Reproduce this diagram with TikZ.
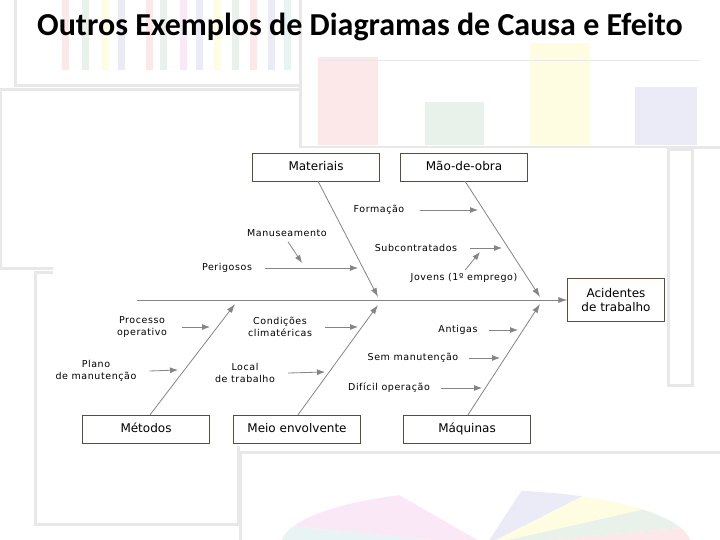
\documentclass[tikz,border=0pt]{standalone}
\usepackage{fontspec}
\setmainfont{DejaVu Sans}
\newfontfamily\titlefont{Carlito}
\newfontfamily\lblfont[LetterSpace=6]{DejaVu Sans}
\usepackage{xcolor}
\usetikzlibrary{arrows.meta,positioning,calc}
\definecolor{fbLine}{HTML}{858585}
\definecolor{fbBox}{HTML}{5E4B3C}
\definecolor{bgFrame}{HTML}{E8E8E8}
\definecolor{bgRed}{HTML}{FCE8E8}
\definecolor{bgGreen}{HTML}{E8F2EA}
\definecolor{bgYellow}{HTML}{FEFDE2}
\definecolor{bgBlue}{HTML}{EBEBF8}
\definecolor{bgPink}{HTML}{FBE8F6}
\definecolor{bgCyan}{HTML}{E8F4F4}

\begin{document}
\begin{tikzpicture}[x=1pt,y=-1pt,
  cat/.style={draw=fbBox,fill=white,minimum width=127pt,minimum height=28pt,
    inner sep=0pt,text height=9pt,text depth=2.5pt,font=\fontsize{12}{14}\selectfont},
  effect/.style={draw=fbBox,fill=white,minimum width=97pt,minimum height=43pt,
    inner sep=0pt,align=center,font=\fontsize{12}{14}\selectfont},
  lbl/.style={inner sep=1pt,align=center,font=\lblfont\fontsize{9.5}{12}\selectfont},
  bone/.style={draw=fbLine,line width=0.8pt,-{Latex[length=9pt,width=6pt]}},
  twig/.style={draw=fbLine,line width=0.8pt,-{Latex[length=8pt,width=6pt]}},
  frame/.style={draw=bgFrame,line width=3pt}
]
\useasboundingbox (0,0) rectangle (720,540);
\fill[white] (0,0) rectangle (720,540);

% faded screenshots behind
\draw[frame] (15,-5) rectangle (300,86);
\foreach \x/\c in {62/bgRed,82/bgGreen,102/bgYellow,118/bgBlue,146/bgRed,160/bgGreen,
  180/bgPink,196/bgBlue,214/bgYellow,232/bgGreen,250/bgRed,268/bgBlue,284/bgCyan}
  \fill[\c] (\x,0) rectangle ++(7,70);
\draw[frame] (0,90) rectangle (300,268);
\draw[frame] (300,-5) rectangle (725,148);
\fill[bgRed] (318,57) rectangle (378,145);
\fill[bgGreen] (425,102) rectangle (484,145);
\fill[bgYellow] (530,43) rectangle (590,145);
\fill[bgBlue] (635,87) rectangle (697,145);
\draw[bgFrame] (320,60) -- (700,60);
\draw[frame] (35,272) rectangle (238,524);
\draw[frame] (668,150) rectangle (692,385);
\draw[frame] (240,452) rectangle (722,545);
\coordinate (pie) at (486,545);
\fill[bgCyan] (pie) -- ++(-205,0) arc (-180:-160:205 and 55) -- cycle;
\fill[bgPink] (pie) -- ++(-160:205 and 55) arc (-160:-115:205 and 55) -- cycle;
\fill[bgBlue] (pie) -- ++(-80:205 and 55) arc (-80:-62:205 and 55) -- cycle;
\fill[bgYellow] (pie) -- ++(-62:205 and 55) arc (-62:-40:205 and 55) -- cycle;
\fill[bgGreen] (pie) -- ++(-40:205 and 55) arc (-40:-18:205 and 55) -- cycle;
\fill[bgRed] (pie) -- ++(-18:205 and 55) arc (-18:0:205 and 55) -- cycle;

% fishbone panel
\fill[white] (53,148) rectangle (666,446);

\node[font=\titlefont\bfseries\fontsize{32}{36}\selectfont] (title) at (360,27)
  {Outros Exemplos de Diagramas de Causa e Efeito};

% categories and effect
\node[cat] (mat) at (316,167) {Materiais};
\node[cat] (mao) at (464,167) {Mão-de-obra};
\node[cat] (met) at (146,429) {Métodos};
\node[cat] (meio) at (297,429) {Meio envolvente};
\node[cat] (maq) at (467,429) {Máquinas};
\node[effect] (efeito) at (616,300) {Acidentes\\de trabalho};

% spine and bones
\coordinate (tail) at (137,300);
\draw[bone] (tail) -- (efeito.west);
\draw[bone] ($(mat.south)+(2,0)$) -- (378,297) coordinate (matend);
\draw[bone] ($(mao.south)+(1,0)$) -- (540,297) coordinate (maoend);
\draw[bone] ($(met.north)+(4,0)$) -- (235,304) coordinate (metend);
\draw[bone] ($(meio.north)+(1,0)$) -- (378,305) coordinate (meioend);
\draw[bone] ($(maq.north)+(1,0)$) -- (540,304) coordinate (maqend);

% causes
\node[lbl] (perig) at (227,268) {Perigosos};
\node[lbl] (manus) at (287,233) {Manuseamento};
\node[lbl] (form) at (379,210) {Formação};
\node[lbl] (subc) at (416,248) {Subcontratados};
\node[lbl] (jov) at (464,278) {Jovens (1º emprego)};
\node[lbl] (proc) at (142,327) {Processo\\operativo};
\node[lbl] (plano) at (96,371) {Plano\\de manutenção};
\node[lbl] (cond) at (280,327) {Condições\\climatéricas};
\node[lbl] (local) at (245,373) {Local\\de trabalho};
\node[lbl] (antig) at (458,330) {Antigas};
\node[lbl] (semm) at (413,358) {Sem manutenção};
\node[lbl] (dific) at (389,388) {Difícil operação};

\draw[twig] ($(perig.east)+(12,0)$) -- (358,268);
\draw[twig] ($(manus.south)+(1,4)$) -- (302,263);
\draw[twig] ($(form.east)+(14,0)$) -- (478,210);
\draw[twig] ($(subc.east)+(12,0)$) -- (502,248);
\draw[twig] ($(jov.north)+(1,-2)$) -- (480,252);
\draw[twig] ($(proc.east)+(14,0)$) -- (210,327);
\draw[twig] ($(plano.east)+(12,0)$) -- (178,370);
\draw[twig] ($(cond.east)+(12,0)$) -- (358,327);
\draw[twig] ($(local.east)+(12,0)$) -- (325,372);
\draw[twig] ($(antig.east)+(10,0)$) -- (518,330);
\draw[twig] ($(semm.east)+(10,0)$) -- (500,358);
\draw[twig] ($(dific.east)+(10,0)$) -- (482,388);
\end{tikzpicture}
\end{document}
